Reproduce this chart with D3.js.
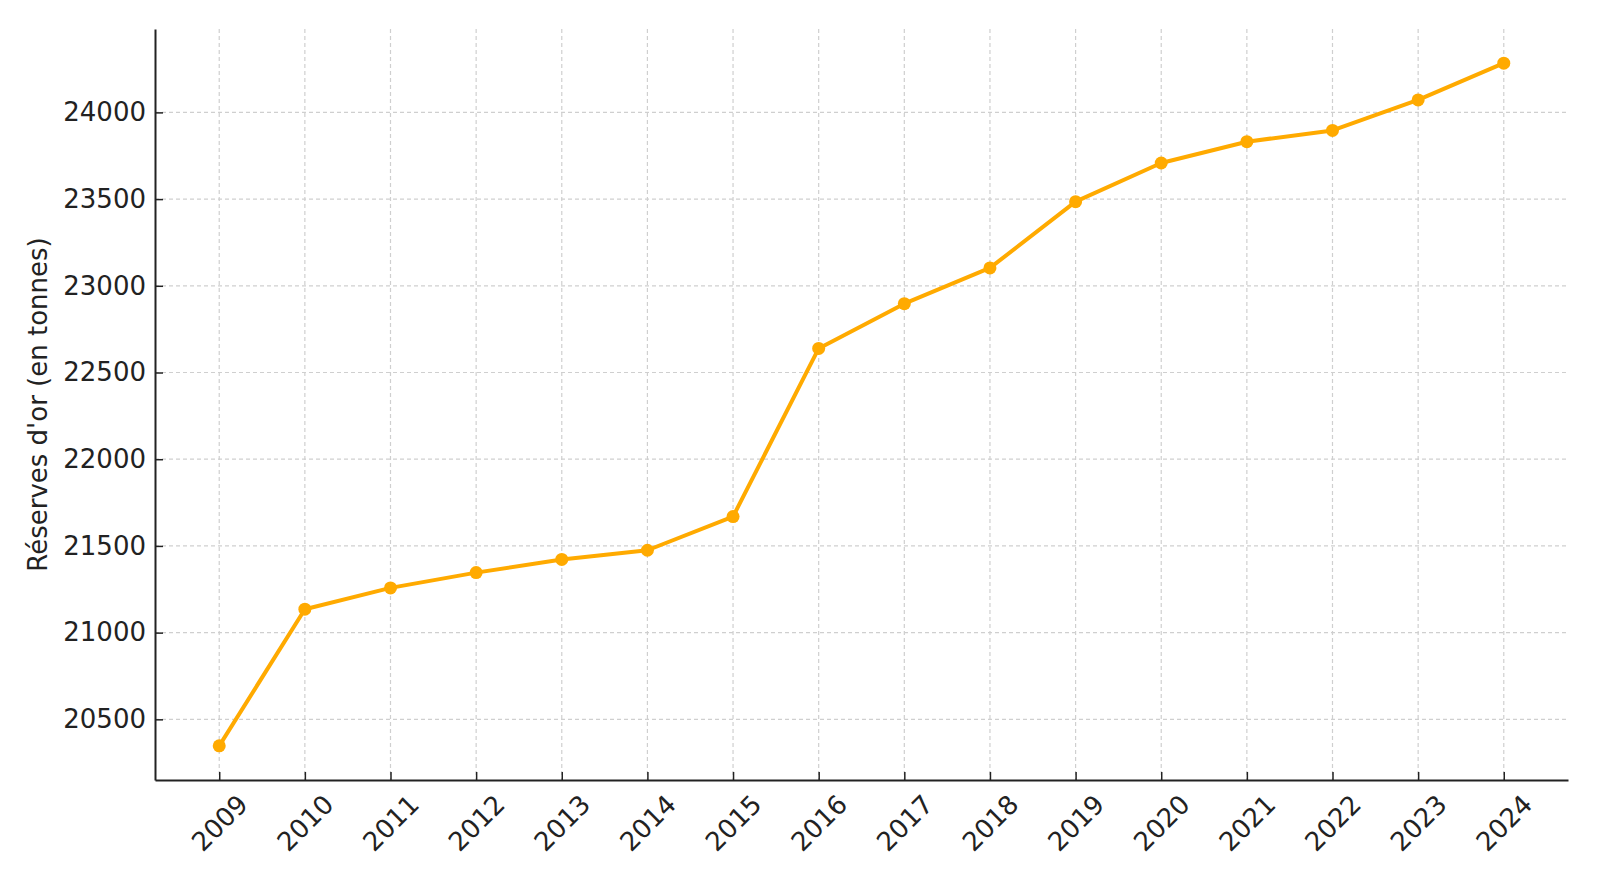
<!DOCTYPE html>
<html lang="fr">
  <head>
    <meta charset="UTF-8" />
    <title>Réserves d'or</title>
    <script src="https://d3js.org/d3.v7.min.js"></script>
    <style>
      body { margin: 0; background: #fff; }
      text { font-family: "DejaVu Sans", sans-serif; fill: #222; }
    </style>
  </head>
  <body>
    <script>
      // Data
      const years = [2009, 2010, 2011, 2012, 2013, 2014, 2015, 2016, 2017, 2018, 2019, 2020, 2021, 2022, 2023, 2024];
      const reserves = [20347, 21135, 21258, 21346, 21422, 21475, 21669, 22639, 22897, 23103, 23485, 23708, 23831, 23896, 24072, 24284];
      const yTicks = [20500, 21000, 21500, 22000, 22500, 23000, 23500, 24000];
      const yLabel = "Réserves d'or (en tonnes)";

      const width = 1600;
      const height = 886;
      const margin = { top: 29, right: 32, bottom: 106, left: 155 };
      const fontSize = 26;

      const svg = d3
        .select("body")
        .append("svg")
        .attr("width", width)
        .attr("height", height);

      // matplotlib-like 5% padding
      const xPad = (d3.max(years) - d3.min(years)) * 0.05;
      const yMin = d3.min(reserves), yMax = d3.max(reserves);
      const yPad = (yMax - yMin) * 0.05;

      const x = d3
        .scaleLinear()
        .domain([d3.min(years) - xPad, d3.max(years) + xPad])
        .range([margin.left, width - margin.right]);

      const y = d3
        .scaleLinear()
        .domain([yMin - yPad, yMax + yPad])
        .range([height - margin.bottom, margin.top]);

      // grid
      const grid = svg.append("g").attr("class", "grid");
      grid
        .selectAll(".vg")
        .data(years)
        .enter()
        .append("line")
        .attr("x1", (d) => x(d))
        .attr("x2", (d) => x(d))
        .attr("y1", margin.top)
        .attr("y2", height - margin.bottom)
        .attr("stroke", "#cfcfcf")
        .attr("stroke-width", 1.2)
        .attr("stroke-dasharray", "4,3");
      grid
        .selectAll(".hg")
        .data(yTicks)
        .enter()
        .append("line")
        .attr("x1", margin.left)
        .attr("x2", width - margin.right)
        .attr("y1", (d) => y(d))
        .attr("y2", (d) => y(d))
        .attr("stroke", "#cfcfcf")
        .attr("stroke-width", 1.2)
        .attr("stroke-dasharray", "4,3");

      // x axis (ticks pointing inward)
      const xAxis = svg
        .append("g")
        .attr("transform", `translate(0, ${height - margin.bottom})`)
        .call(
          d3.axisBottom(x).tickValues(years).tickFormat(d3.format("d")).tickSize(-8).tickSizeOuter(0)
        );
      xAxis.select(".domain").attr("stroke", "#222").attr("stroke-width", 2);
      xAxis.selectAll(".tick line").attr("stroke", "#222").attr("stroke-width", 1.5);
      xAxis
        .selectAll("text")
        .attr("font-size", fontSize)
        .attr("dy", null)
        .attr("y", 0)
        .attr("x", 0)
        .attr("text-anchor", "middle")
        .attr("dominant-baseline", "central")
        .attr("transform", "translate(0, 43) rotate(-45)");

      // y axis (ticks pointing inward)
      const yAxis = svg
        .append("g")
        .attr("transform", `translate(${margin.left}, 0)`)
        .call(
          d3.axisLeft(y).tickValues(yTicks).tickFormat(d3.format("d")).tickSize(-8).tickSizeOuter(0).tickPadding(9)
        );
      yAxis.select(".domain").attr("stroke", "#222").attr("stroke-width", 2);
      yAxis.selectAll(".tick line").attr("stroke", "#222").attr("stroke-width", 1.5);
      yAxis.selectAll("text").attr("font-size", fontSize);

      svg
        .append("text")
        .attr("transform", `translate(38, ${(margin.top + height - margin.bottom) / 2}) rotate(-90)`)
        .attr("text-anchor", "middle")
        .attr("dominant-baseline", "central")
        .attr("font-size", fontSize)
        .text(yLabel);

      // line + markers
      const pts = years.map((yr, i) => [yr, reserves[i]]);
      svg
        .append("path")
        .datum(pts)
        .attr("fill", "none")
        .attr("stroke", "#FFAA00")
        .attr("stroke-width", 4)
        .attr("stroke-linejoin", "round")
        .attr("d", d3.line().x((d) => x(d[0])).y((d) => y(d[1])));

      svg
        .selectAll(".dot")
        .data(pts)
        .enter()
        .append("circle")
        .attr("cx", (d) => x(d[0]))
        .attr("cy", (d) => y(d[1]))
        .attr("r", 6.5)
        .attr("fill", "#FFAA00");
    </script>
  </body>
</html>
